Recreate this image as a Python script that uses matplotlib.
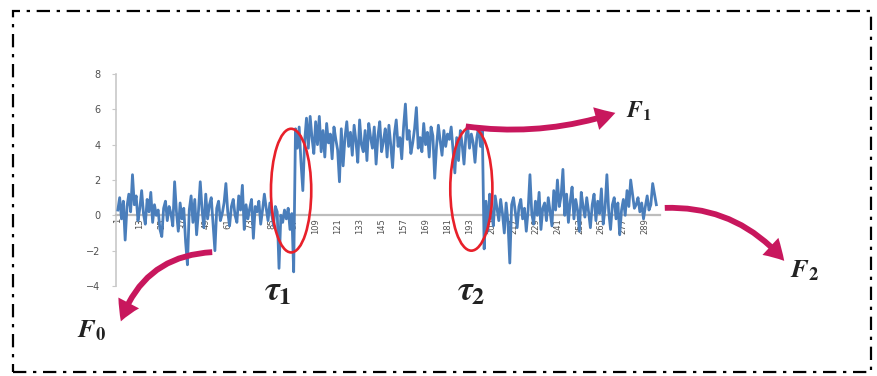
import numpy as np
import matplotlib
matplotlib.use("Agg")
import matplotlib.pyplot as plt
from matplotlib.patches import Ellipse, FancyArrowPatch, Rectangle

plt.rcParams['mathtext.fontset'] = 'stix'

# regime F0: before the first change point
seg_f0 = [0.3, 1.0, -0.2, 0.8, -1.4, 0.5, 1.2, 0.2, 2.3, 0.6,
          1.1, -0.3, 0.4, 1.4, 0.1, -0.5, 0.9, 0.2, 1.3, -0.4,
          0.6, 0.0, 0.3, -0.8, -1.2, 0.4, 0.8, -0.3, 0.5, 0.1,
          -0.6, 1.9, 0.2, -0.9, 0.7, -0.2, 0.4, -1.5, -2.8, 0.3,
          1.1, -0.4, 0.9, -1.1, 0.2, 1.9, 0.3, -0.7, 1.2, -0.2,
          0.6, 1.0, -0.5, -2.0, 0.4, 0.8, -0.3, 0.1, 0.7, 1.8,
          0.2, -0.6, 0.5, 0.9, 0.0, -0.4, 1.1, 0.3, 1.7, -0.8,
          0.6, -0.2, 0.4, 0.9, -1.3, 0.5, 0.2, 0.8, -0.5, 0.3,
          1.2, 0.4, -0.3, 0.7, 0.1, -0.6, 0.5, 0.2, -3.0, 0.0,
          -0.4, 0.3, -0.2, 0.4, -0.8, 0.1, -3.2]

# regime F1: shifted mean between tau1 and tau2
seg_f1 = [4.9, 3.8, 5.0, 3.0, 1.4, 4.2, 5.5, 3.8, 5.6, 4.4,
          3.5, 5.3, 4.0, 5.6, 3.6, 4.8, 3.3, 5.2, 4.1, 4.6,
          3.2, 5.0, 4.3, 3.7, 1.9, 4.9, 2.8, 4.4, 5.3, 3.9,
          4.7, 3.4, 5.1, 4.2, 3.0, 5.4, 4.0, 3.6, 4.8, 3.1,
          5.2, 4.4, 3.8, 5.0, 2.9, 4.5, 5.3, 3.6, 4.2, 4.9,
          3.3, 5.1, 4.0, 2.7, 4.6, 5.4, 3.9, 4.4, 3.2, 5.0,
          6.3, 4.3, 4.8, 3.5, 4.1, 4.9, 6.1, 3.8, 4.4, 3.6,
          5.2, 4.0, 4.7, 3.3, 5.0, 4.5, 2.1, 3.9, 5.1, 4.2,
          3.4, 4.8, 3.9, 4.6, 4.3, 5.0, 3.7, 2.4, 4.4, 3.1,
          4.8, 4.0, 2.9, 4.5, 5.0, 3.8, 4.6, 4.1, 3.0, 4.4,
          5.0, 3.9, 4.8]

# regime F2: back near zero after tau2
seg_f2 = [-1.9, 0.8, -0.9, 1.2, 0.2, -0.6, 1.1, 0.4, -0.3, 0.9,
          0.1, -1.0, 0.7, -0.4, -2.7, 0.6, 1.0, 0.2, -0.7, 0.5,
          0.9, -0.2, 0.4, -0.9, 0.3, 2.3, 0.1, -0.5, 0.8, 0.0,
          1.3, -0.8, 0.4, 0.7, -0.3, 1.0, 0.2, -0.6, 1.4, 0.3,
          2.0, 0.5, 1.1, 2.6, 0.0, 1.2, -0.4, 0.8, 1.6, -0.2,
          0.9, 0.3, -0.9, 1.3, 0.5, -0.1, 1.0, 0.2, -0.7, 0.6,
          1.2, -0.3, 0.8, 0.1, 1.5, -0.5, 0.4, 2.3, 0.2, -0.8,
          0.6, 1.0, -0.2, 0.7, -1.1, 0.3, 0.9, 0.0, 1.4, 0.5,
          2.0, 1.2, 0.4, 0.6, 1.0, 0.2, 0.7, -0.2, 0.5, 1.1,
          0.3, 0.6, 1.8, 1.2, 0.6]

values = np.array(seg_f0 + seg_f1 + seg_f2)
t = np.arange(1, len(values) + 1)
xticks = list(range(1, 290, 12))
yticks = [-4, -2, 0, 2, 4, 6, 8]

W, H = 877, 376
fig = plt.figure(figsize=(W / 100, H / 100), dpi=100)


def fx(px, py):
    # pixel position (origin top-left) -> figure fraction
    return (px / W, 1 - py / H)


ax = fig.add_axes([116 / W, 1 - 286 / H, 544 / W, 212 / H])
ax.plot(t, values, color='#4a7ebb', lw=2.0, zorder=3, solid_joinstyle='round')
ax.set_xlim(0, 297)
ax.set_ylim(-4, 8)

for s in ['top', 'right']:
    ax.spines[s].set_visible(False)
ax.spines['left'].set_color('#c8c8c8')
ax.spines['left'].set_linewidth(1.2)
ax.spines['bottom'].set_position(('data', 0))
ax.spines['bottom'].set_color('#bdbdbd')
ax.spines['bottom'].set_linewidth(1.6)

ax.set_yticks(yticks)
ax.tick_params(axis='y', direction='out', length=3, color='#c8c8c8',
               labelsize=7, labelcolor='#505050', pad=8)
ax.set_xticks(xticks)
ax.set_xticklabels([str(v) for v in xticks], rotation=90)
ax.tick_params(axis='x', length=0, labelsize=6, labelcolor='#505050', pad=2)

# change point markers
ax.add_patch(Ellipse((95.6, 1.4), 22, 7.0, fill=False, edgecolor='#e8202a',
                     lw=1.9, zorder=4))
ax.add_patch(Ellipse((194.0, 1.5), 23, 7.0, fill=False, edgecolor='#e8202a',
                     lw=1.9, zorder=4))

arrow_color = '#c8175d'
arrows = [((463, 126), (618, 112), 0.12),
          ((215, 252), (120, 324), 0.35),
          ((662, 208), (786, 263), -0.25)]
for (p0, p1, rad) in arrows:
    fig.add_artist(FancyArrowPatch(
        fx(*p0), fx(*p1), transform=fig.transFigure,
        connectionstyle=f'arc3,rad={rad}',
        arrowstyle='simple,head_length=1.2,head_width=1.4,tail_width=0.35',
        mutation_scale=12, color=arrow_color, lw=0))

labels = [(r'$\boldsymbol{F}_\mathbf{0}$', (92, 330), 19),
          (r'$\boldsymbol{F}_\mathbf{1}$', (639, 111), 17),
          (r'$\boldsymbol{F}_\mathbf{2}$', (805, 270), 19),
          (r'$\boldsymbol{\tau}_\mathbf{1}$', (278, 290), 25),
          (r'$\boldsymbol{\tau}_\mathbf{2}$', (471, 290), 25)]
for txt, pos, size in labels:
    fig.text(*fx(*pos), txt, fontsize=size, ha='center', va='center',
             color='#222222')

# dash-dot frame around the whole figure
x0, y0 = fx(13, 372)
x1, y1 = fx(871, 11)
fig.add_artist(Rectangle((x0, y0), x1 - x0, y1 - y0, transform=fig.transFigure,
                         fill=False, edgecolor='black', lw=1.6,
                         linestyle=(0, (6, 3, 1.5, 3))))

fig.savefig('out.png', dpi=100)
